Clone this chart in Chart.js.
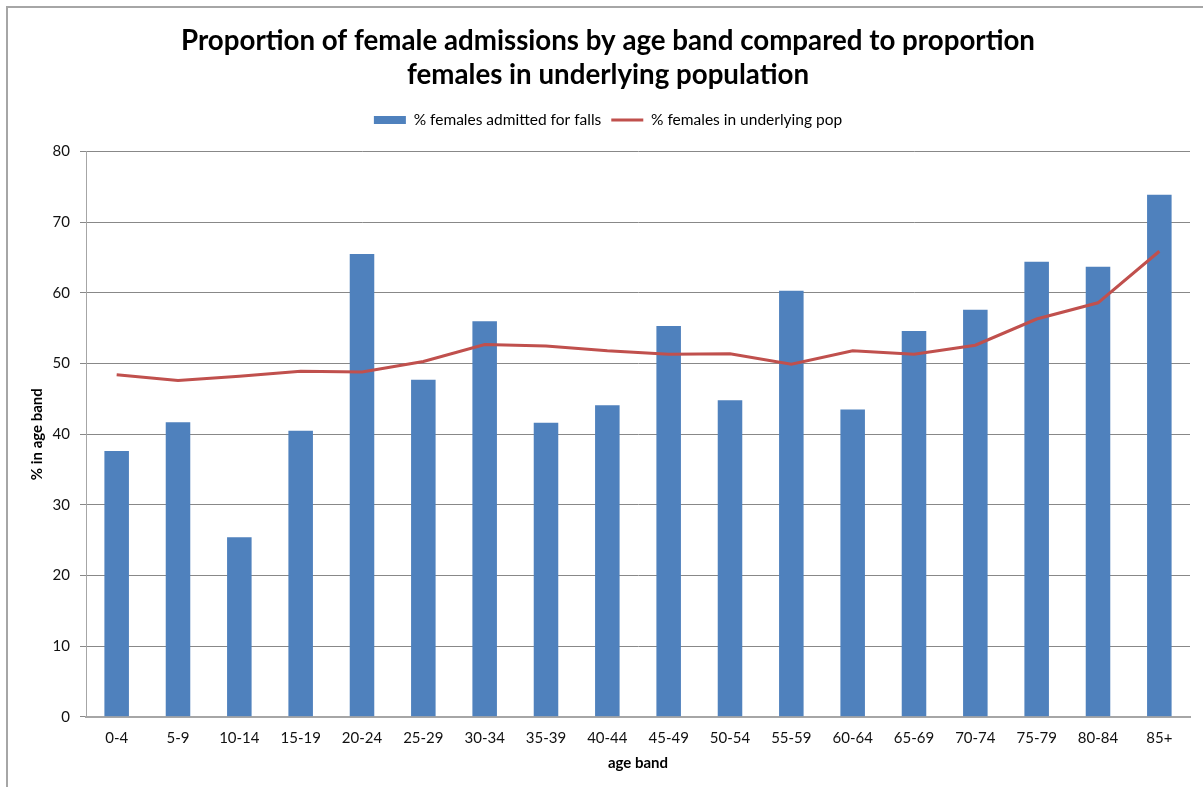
<!DOCTYPE html>
<html>
<head>
<meta charset="utf-8">
<script src="https://cdn.jsdelivr.net/npm/chart.js@4/dist/chart.umd.min.js"></script>
<style>
    body { margin: 0; background: #fff; }
    #marco { position: absolute; left: 6px; top: 6px; width: 1197px; height: 781px;
             border-left: 2px solid #a6a6a6; border-top: 2px solid #a6a6a6; }
    canvas { position: absolute; left: 0; top: 0; }
</style>
</head>
<body>
<div id="marco"></div>
<canvas id="grafico" width="1203" height="787"></canvas>
<script>
// Datos
const bandas = ['0-4', '5-9', '10-14', '15-19', '20-24', '25-29', '30-34', '35-39', '40-44',
                '45-49', '50-54', '55-59', '60-64', '65-69', '70-74', '75-79', '80-84', '85+'];
const ingresosMujeres = [37.6, 41.7, 25.4, 40.5, 65.5, 47.7, 56.0, 41.6, 44.1,
                         55.3, 44.8, 60.3, 43.5, 54.6, 57.6, 64.4, 63.7, 73.9];
const poblacionMujeres = [48.4, 47.6, 48.2, 48.9, 48.8, 50.3, 52.7, 52.5, 51.8,
                          51.3, 51.4, 49.9, 51.8, 51.3, 52.6, 56.3, 58.6, 65.9];
const ticksY = [0, 10, 20, 30, 40, 50, 60, 70, 80];

const FUENTE = 'Lato, "Open Sans", sans-serif';

// Espacio extra debajo de la leyenda
const espacioLeyenda = {
    id: 'espacioLeyenda',
    beforeInit(chart) {
        const fitOriginal = chart.legend.fit;
        chart.legend.fit = function () {
            fitOriginal.bind(chart.legend)();
            this.height += 14;
        };
    }
};

const ctx = document.getElementById('grafico').getContext('2d');
new Chart(ctx, {
    type: 'bar',
    data: {
        labels: bandas,
        datasets: [{
            type: 'bar',
            label: '% females admitted for falls',
            data: ingresosMujeres,
            backgroundColor: '#4F81BD',
            borderWidth: 0,
            barPercentage: 0.4,
            categoryPercentage: 1,
            pointStyle: 'rect',
            order: 1
        }, {
            type: 'line',
            label: '% females in underlying pop',
            data: poblacionMujeres,
            borderColor: '#C0504D',
            backgroundColor: '#C0504D',
            borderWidth: 3,
            pointRadius: 0,
            tension: 0,
            pointStyle: 'line',
            order: 0
        }]
    },
    options: {
        responsive: false,
        animation: false,
        layout: { padding: { top: 24, left: 26, right: 13, bottom: 8 } },
        plugins: {
            title: {
                display: true,
                text: ['Proportion of female admissions by age band compared to proportion',
                       'females in underlying population'],
                color: '#000',
                font: { family: FUENTE, size: 27.7, weight: 'bold', lineHeight: 1.23 },
                padding: { top: 0, bottom: 10 }
            },
            legend: {
                position: 'top',
                labels: {
                    usePointStyle: true,
                    pointStyleWidth: 32,
                    boxHeight: 8,
                    color: '#000',
                    padding: 10,
                    font: { family: FUENTE, size: 15.5 },
                    sort: (a, b) => a.datasetIndex - b.datasetIndex
                }
            },
            tooltip: { enabled: false }
        },
        scales: {
            x: {
                afterFit(scale) {
                    scale.height = 62.3;
                },
                grid: { display: false, drawTicks: false },
                border: { color: '#a6a6a6', width: 2 },
                ticks: { color: '#111', padding: 12, font: { family: FUENTE, size: 15 } },
                title: {
                    display: true,
                    text: 'age band',
                    color: '#000',
                    font: { family: FUENTE, size: 15, weight: 'bold' },
                    padding: { top: 4, bottom: 7 }
                }
            },
            y: {
                min: 0,
                max: 80,
                afterBuildTicks(scale) {
                    scale.ticks = ticksY.map(v => ({ value: v }));
                },
                afterFit(scale) {
                    scale.width = 60;
                },
                grid: { color: '#888888', lineWidth: 1, tickLength: 6 },
                border: { color: '#a6a6a6', width: 1 },
                ticks: { color: '#111', padding: 10, font: { family: FUENTE, size: 15 } },
                title: {
                    display: true,
                    text: '% in age band',
                    color: '#000',
                    font: { family: FUENTE, size: 15, weight: 'bold' },
                    padding: { top: 2, bottom: 0 }
                }
            }
        }
    },
    plugins: [espacioLeyenda]
});
</script>
</body>
</html>
